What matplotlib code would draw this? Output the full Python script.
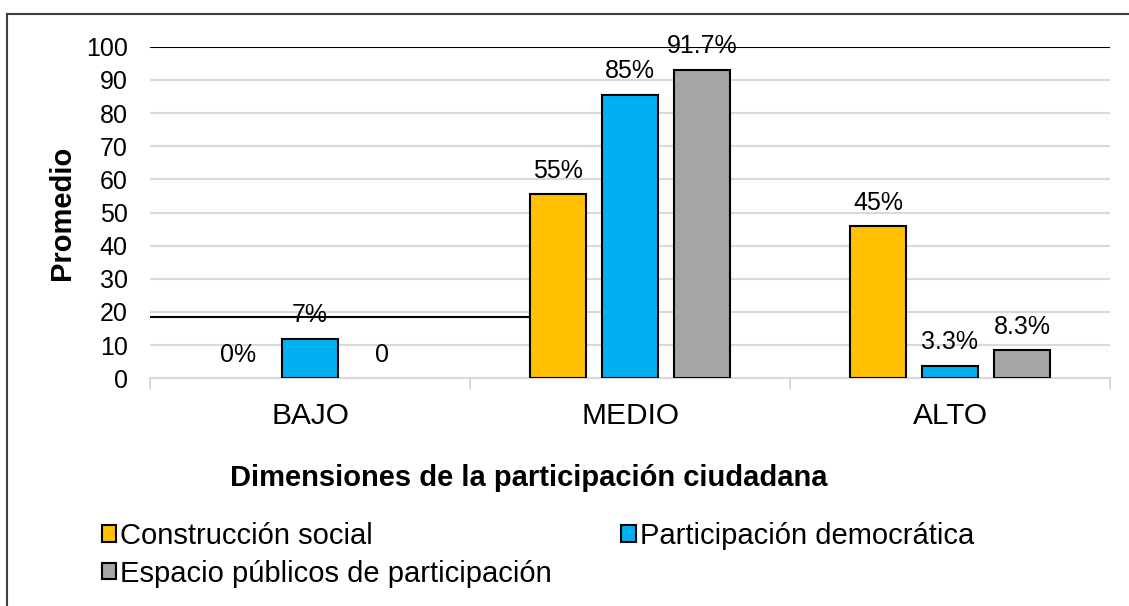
import matplotlib
matplotlib.use('Agg')
import matplotlib.pyplot as plt
from matplotlib.patches import Patch
from matplotlib.lines import Line2D
import numpy as np

plt.rcParams['font.family'] = ['Liberation Sans', 'DejaVu Sans']

categories = ['BAJO', 'MEDIO', 'ALTO']
series = ['Construcción social', 'Participación democrática',
          'Espacio públicos de participación']
# bar heights as drawn in the picture
construccion = [0, 55.5, 45.8]
participacion = [12, 85.5, 3.7]
espacio = [0, 93, 8.5]
# labels as printed above the bars
lab_construccion = ['0%', '55%', '45%']
lab_participacion = ['7%', '85%', '3.3%']
lab_espacio = ['0', '91.7%', '8.3%']

colors = ['#FFC000', '#00B0F0', '#A5A5A5']
grid_c = '#D9D9D9'

W, H = 1129, 606
fig = plt.figure(figsize=(W / 100, H / 100), dpi=100)
ax = fig.add_axes([150 / W, 1 - 378.3 / H, 960 / W, (378.3 - 46.7) / H])

x = np.arange(len(categories))
bw = 0.175
off = 0.225
values = [construccion, participacion, espacio]
labels = [lab_construccion, lab_participacion, lab_espacio]

ax.set_axisbelow(True)
for k in range(3):
    xs = x + (k - 1) * off
    lws = [1.5 if v > 0 else 0 for v in values[k]]
    ax.bar(xs, values[k], bw, color=colors[k], edgecolor='black', linewidth=lws, zorder=3)
    for xi, v, t in zip(xs, values[k], labels[k]):
        ax.annotate(t, (xi, v), xytext=(0, 17), textcoords='offset points',
                    ha='center', va='center', fontsize=18, clip_on=False, zorder=5)

ax.set_xlim(-0.5, 2.5)
ax.set_ylim(0, 100)
ax.set_yticks(np.arange(0, 101, 10))
ax.yaxis.grid(True, color=grid_c, linewidth=1.5)
ax.axhline(100, color='black', linewidth=1.5, zorder=4)
ax.axhline(18.5, xmin=0, xmax=(532 - 150) / 960, color='black', linewidth=1.5, zorder=2)

for s in ['top', 'right', 'left']:
    ax.spines[s].set_visible(False)
ax.spines['bottom'].set_color(grid_c)
ax.spines['bottom'].set_linewidth(1.5)

ax.set_xticks(x)
ax.set_xticklabels(categories, fontsize=21.5)
ax.set_xticks([-0.5, 0.5, 1.5, 2.5], minor=True)
ax.tick_params(axis='x', which='major', length=0, pad=17)
ax.tick_params(axis='x', which='minor', length=8, width=1.5, color=grid_c)
ax.tick_params(axis='y', length=0, labelsize=18, pad=16)

ax.set_ylabel('Promedio', fontsize=21, fontweight='bold', labelpad=7)

fig.text(529 / W, 1 - 478 / H, 'Dimensiones de la participación ciudadana',
         ha='center', va='center', fontsize=21, fontweight='bold')

# legend fills column by column, so order gives rows C | P / E
order = [0, 2, 1]
handles = [Patch(facecolor=colors[i], edgecolor='black', linewidth=1.5) for i in order]
fig.legend(handles, [series[i] for i in order], loc='upper left',
           bbox_to_anchor=(87 / W, 1 - 507 / H),
           ncol=2, frameon=False, fontsize=21, handlelength=0.5, handleheight=0.5,
           handletextpad=0.12, columnspacing=2.4, labelspacing=0.34, borderpad=0)

# outer frame (cropped on right and bottom)
fig.add_artist(Line2D([7 / W, 7 / W], [0, 1 - 14 / H], color='#404040', linewidth=1.5))
fig.add_artist(Line2D([7 / W, 1], [1 - 14 / H, 1 - 14 / H], color='#404040', linewidth=1.5))

fig.savefig('out.png', dpi=100)
